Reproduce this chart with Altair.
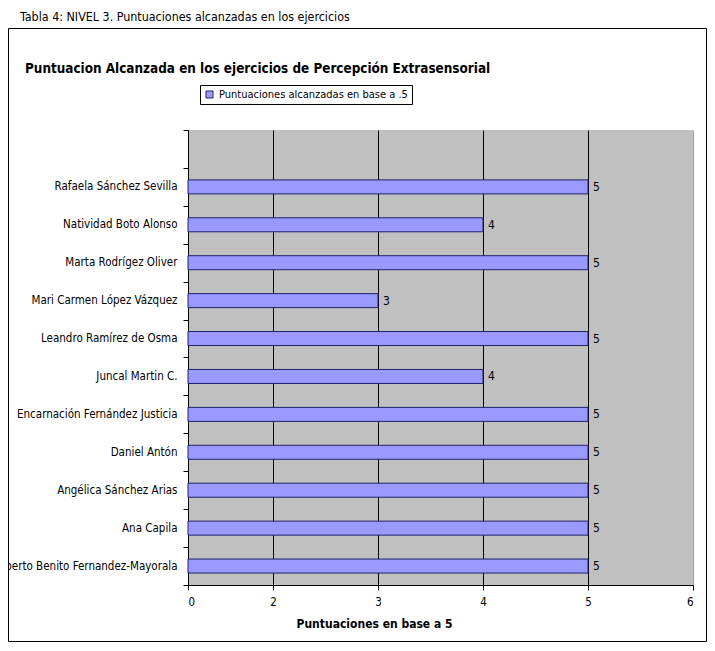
import altair as alt
import pandas as pd

caption = "Tabla 4: NIVEL 3. Puntuaciones alcanzadas en los ejercicios"
chart_title = "Puntuacion Alcanzada en los ejercicios de Percepción Extrasensorial"
series_name = "Puntuaciones alcanzadas en base a .5"
x_title = "Puntuaciones en base a 5"

names = [
    "Rafaela Sánchez Sevilla",
    "Natividad Boto Alonso",
    "Marta Rodrígez Oliver",
    "Mari Carmen López Vázquez",
    "Leandro Ramírez de Osma",
    "Juncal Martin C.",
    "Encarnación Fernández Justicia",
    "Daniel Antón",
    "Angélica Sánchez Arias",
    "Ana Capila",
    "Roberto Benito Fernandez-Mayorala",
]
values = [5, 4, 5, 3, 5, 4, 5, 5, 5, 5, 5]

x_ticks = [1.19, 2, 3, 4, 5, 6]
x_tick_labels = ["0", "2", "3", "4", "5", "6"]
x_domain = [1.19, 6]

FONT = "DejaVu Sans Condensed"
W, H = 505, 455

df = pd.DataFrame({"nombre": names, "valor": values, "serie": series_name})
y_domain = [" "] + names

label_expr = "[{}][indexof([{}], datum.value)]".format(
    ",".join("'" + s + "'" for s in x_tick_labels),
    ",".join(str(v) for v in x_ticks),
)

x_enc = alt.X(
    "valor:Q",
    scale=alt.Scale(domain=x_domain, nice=False, zero=False, clamp=True),
    axis=alt.Axis(
        values=x_ticks,
        labelExpr=label_expr,
        title=x_title,
        titleX=186,
        titleY=38,
        titleAlign="center",
        titleBaseline="middle",
        titleFontWeight="bold",
        titleFontSize=12,
        titleFont=FONT,
        grid=True,
        gridColor={"condition": {"test": "datum.value >= 6", "value": "#a0a0a0"}, "value": "black"},
        gridWidth=1,
        domainColor="black",
        tickColor="black",
        tickSize=5,
        labelPadding=6,
        labelFont=FONT,
        labelFontSize=11.5,
        labelColor="black",
    ),
)
y_enc = alt.Y(
    "nombre:N",
    sort=None,
    scale=alt.Scale(domain=y_domain, paddingInner=0, paddingOuter=0),
    axis=alt.Axis(
        title=None,
        tickBand="extent",
        tickSize=5,
        tickColor="black",
        domainColor="black",
        labelPadding=6,
        labelFont=FONT,
        labelFontSize=11.5,
        labelColor="black",
        labelLimit=400,
        grid=False,
    ),
)

bars = alt.Chart(df).mark_bar(height=14, stroke="#20206a", strokeWidth=1).encode(
    x=x_enc,
    y=y_enc,
    color=alt.Color(
        "serie:N",
        scale=alt.Scale(range=["#9999FF"]),
        legend=alt.Legend(
            title=None,
            orient="none",
            legendX=12,
            legendY=-45,
            strokeColor="black",
            fillColor="white",
            padding=4,
            cornerRadius=0,
            symbolType="square",
            symbolSize=49,
            symbolStrokeColor="#20206a",
            symbolStrokeWidth=1,
            labelFont=FONT,
            labelFontSize=11,
            labelColor="black",
            labelLimit=400,
        ),
    ),
)

labels = alt.Chart(df).mark_text(
    align="left", baseline="middle", dx=5, font=FONT, fontSize=12, color="black"
).encode(x="valor:Q", y="nombre:N", text="valor:Q")

frame_df = pd.DataFrame({"k": [0]})
frame = alt.Chart(frame_df).mark_rect(filled=False, stroke="black", strokeWidth=1).encode(
    x=alt.value(-179.5), x2=alt.value(518.5), y=alt.value(-101.5), y2=alt.value(511.5)
)

cap_df = pd.DataFrame({"t": [caption]})
cap = alt.Chart(cap_df).mark_text(
    align="left", baseline="alphabetic", font=FONT, fontSize=12.4, color="black"
).encode(text="t:N", x=alt.value(-168), y=alt.value(-109))

ttl_df = pd.DataFrame({"t": [chart_title]})
ttl = alt.Chart(ttl_df).mark_text(
    align="left", baseline="alphabetic", font=FONT, fontSize=13.4, fontWeight="bold", color="black"
).encode(text="t:N", x=alt.value(-163), y=alt.value(-57))

chart = (
    alt.layer(bars, labels, frame, cap, ttl)
    .properties(
        width=W,
        height=H,
        padding={"left": 180, "top": 122, "right": 14, "bottom": 58},
        autosize=alt.AutoSizeParams(type="none"),
        background="white",
    )
    .configure_view(fill="#C0C0C0", strokeWidth=0)
)

chart.save("out.html", embed_options={"renderer": "svg", "actions": False})
